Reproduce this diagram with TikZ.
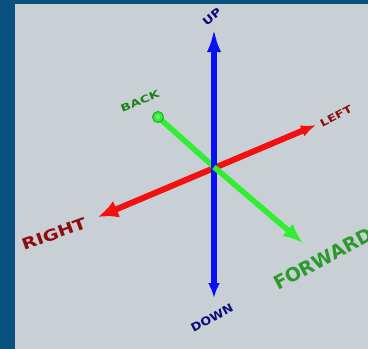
\documentclass[tikz,border=0pt]{standalone}
\usepackage{fontspec}
\setmainfont{DejaVu Sans}
\usetikzlibrary{arrows.meta}
\definecolor{framecol}{HTML}{0B5180}
\definecolor{bgcol}{HTML}{C8D0D6}
\definecolor{axblue}{HTML}{0A10F5}
\definecolor{axred}{HTML}{F51010}
\definecolor{axgreen}{HTML}{30EE30}
\definecolor{txred}{HTML}{8E0C0C}
\definecolor{txgreen}{HTML}{2A9A2A}
\definecolor{txgreendk}{HTML}{1F8020}
\definecolor{txblue}{HTML}{0A0A7A}
\tikzset{
  axlabel/.style={inner sep=0pt, font=\bfseries},
  axline/.style={line cap=butt}
}
\begin{document}
\begin{tikzpicture}[x=1pt,y=-1pt]
\useasboundingbox (0,0) rectangle (368,349);
\fill[framecol] (0,0) rectangle (368,349);
\fill[bgcol] (15,4) rectangle (368,349);
\coordinate (O) at (214,167);
\coordinate (up) at (214,28);
\coordinate (down) at (214,298);
\coordinate (right) at (98,217);
\coordinate (left) at (316,125);
\coordinate (back) at (158,117);
\coordinate (fwd) at (303,243);
% red axis
\draw[axline, axred, line width=6pt, {Latex[length=20pt,width=18pt]}-{Latex[length=15pt,width=12pt]}] (right) -- (left);
% green axis, back half
\draw[axline, axgreen, line width=5.5pt] (back) -- (O);
\filldraw[fill=axgreen, draw=txgreendk!70!axgreen, line width=0.9pt] (back) circle (5.5pt);
\fill[axgreen!60!white] (back) circle (2pt);
% blue axis
\draw[axline, axblue, line width=6pt, {Latex[length=15pt,width=12pt]}-{Latex[length=24pt,width=14pt]}] (down) -- (up);
% green axis, front half
\draw[axline, axgreen, line width=5.5pt, -{Latex[length=20pt,width=16pt]}] (O) -- (fwd);
% labels
\node[axlabel, txblue, rotate=40] (lup) at (212,17) {\fontsize{11}{11}\selectfont\scalebox{1.2}[1]{UP}};
\node[axlabel, txgreendk, rotate=22] (lback) at (140,101) {\fontsize{10}{10}\selectfont\scalebox{1.35}[1]{BACK}};
\node[axlabel, txred, rotate=28] (lleft) at (336,116) {\fontsize{10}{10}\selectfont\scalebox{1.3}[1]{LEFT}};
\node[axlabel, txred, rotate=20] (lright) at (54,234) {\fontsize{15.5}{15.5}\selectfont\scalebox{1.25}[1]{RIGHT}};
\node[axlabel, txgreen, rotate=28] (lfwd) at (323,259) {\fontsize{19}{19}\selectfont FORWARD};
\node[axlabel, txblue, rotate=28] (ldown) at (212,318) {\fontsize{11.5}{11.5}\selectfont\scalebox{1.1}[1]{DOWN}};
\end{tikzpicture}
\end{document}
